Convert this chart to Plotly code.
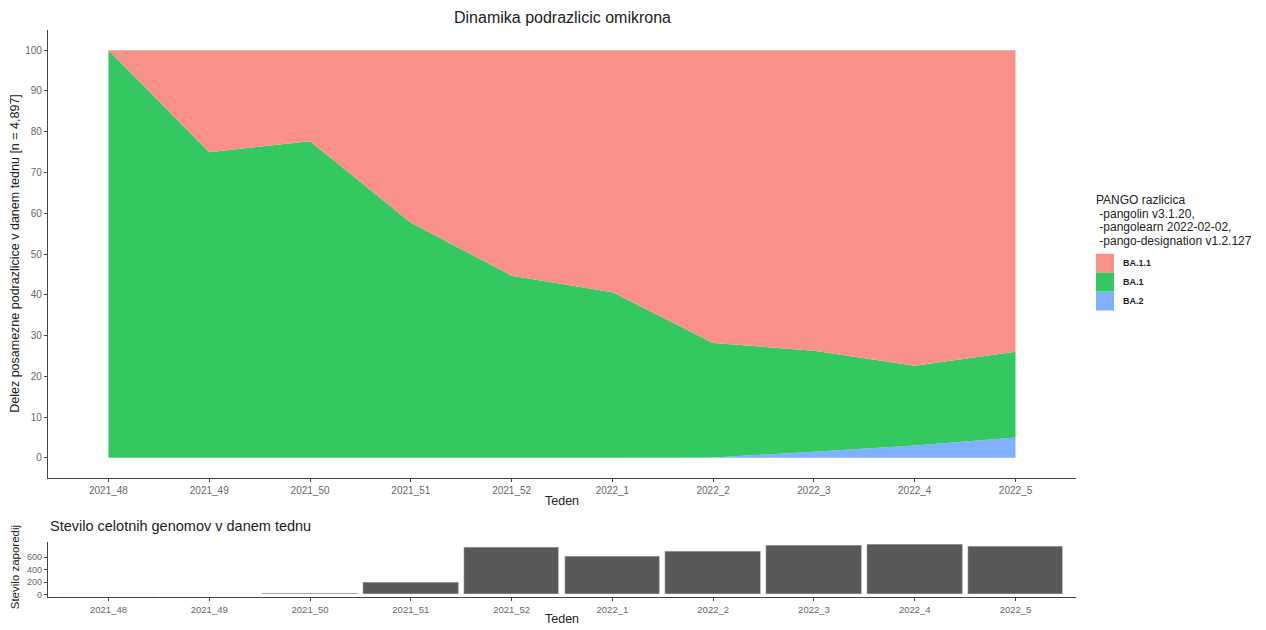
import plotly.graph_objects as go

# Weeks (categories)
weeks = ["2021_48", "2021_49", "2021_50", "2021_51", "2021_52",
         "2022_1", "2022_2", "2022_3", "2022_4", "2022_5"]

# Share of each sub-lineage per week (%)
ba2 = [0.0, 0.0, 0.0, 0.0, 0.0, 0.0, 0.1, 1.5, 3.0, 5.0]
ba1 = [100.0, 75.0, 77.7, 57.7, 44.7, 40.6, 28.1, 24.8, 19.6, 21.0]
ba11 = [round(100 - a - b, 1) for a, b in zip(ba1, ba2)]

# Number of whole genomes sequenced per week
genomes = [1, 4, 18, 190, 750, 610, 693, 790, 795, 773]

colors = {"BA.1.1": "#F9918A", "BA.1": "#33C860", "BA.2": "#81B0FF"}
FONT = "Liberation Sans, Arial, sans-serif"
AXIS_COL = "#444444"
TICK_COL = "#666666"

fig = go.Figure()

# Stacked area: BA.2 at the bottom, then BA.1, then BA.1.1 on top
for name, vals in [("BA.2", ba2), ("BA.1", ba1), ("BA.1.1", ba11)]:
    fig.add_trace(go.Scatter(
        x=weeks, y=vals, name=name, mode="none", stackgroup="one",
        fillcolor=colors[name], showlegend=False,
        xaxis="x", yaxis="y",
    ))

# Bar chart of weekly genome counts
fig.add_trace(go.Bar(
    x=weeks, y=genomes, width=0.95,
    marker=dict(color="#595959", line=dict(color="#f2f2f2", width=0.6)),
    showlegend=False, xaxis="x2", yaxis="y2",
))

x_dom = [48 / 1266, 1076 / 1266]
common_x = dict(
    type="category", range=[-0.6, 9.6], showline=True, linecolor=AXIS_COL,
    linewidth=1.2, ticks="outside", ticklen=3, tickcolor=AXIS_COL,
    showgrid=False, zeroline=False, domain=x_dom,
)
common_y = dict(
    showline=True, linecolor=AXIS_COL, linewidth=1.2, ticks="outside",
    ticklen=3, tickcolor=AXIS_COL, showgrid=False, zeroline=False,
)

fig.update_layout(
    width=1266, height=630,
    margin=dict(l=0, r=0, t=0, b=0),
    paper_bgcolor="white", plot_bgcolor="white",
    font=dict(family=FONT, color="#222222"),
    bargap=0,
    xaxis=dict(common_x, anchor="y",
               tickfont=dict(size=10, color=TICK_COL)),
    yaxis=dict(common_y, domain=[1 - 480.5 / 630, 1 - 30 / 630],
               range=[-5, 105], tickvals=list(range(0, 101, 10)),
               tickfont=dict(size=10, color=TICK_COL), anchor="x"),
    xaxis2=dict(common_x, anchor="y2",
                tickfont=dict(size=9.5, color=TICK_COL)),
    yaxis2=dict(common_y, domain=[1 - 600 / 630, 1 - 545 / 630],
                range=[-0.05 * max(genomes), 1.05 * max(genomes)],
                tickvals=[0, 200, 400, 600],
                tickfont=dict(size=9, color=TICK_COL), anchor="x2"),
)

def px_x(p):
    return p / 1266

def px_y(p):
    return 1 - p / 630

annotations = [
    dict(text="Dinamika podrazlicic omikrona", x=px_x(562), y=px_y(18),
         font=dict(size=16)),
    dict(text="Teden", x=px_x(562), y=px_y(503.5), font=dict(size=12.5)),
    dict(text="Delez posamezne podrazlicice v danem tednu [n = 4,897]",
         x=px_x(15), y=px_y(255), textangle=-90, font=dict(size=12.5)),
    dict(text="Stevilo celotnih genomov v danem tednu", x=px_x(48),
         y=px_y(529), xanchor="left", font=dict(size=14.5)),
    dict(text="Stevilo zaporedij", x=px_x(15), y=px_y(570), textangle=-90,
         font=dict(size=11.5)),
    dict(text="Teden", x=px_x(562), y=px_y(622), font=dict(size=12.5)),
]

# Legend (title lines + colour keys)
legend_lines = ["PANGO razlicica", " -pangolin v3.1.20,",
                " -pangolearn 2022-02-02,", " -pango-designation v1.2.127"]
for i, line in enumerate(legend_lines):
    annotations.append(dict(text=line.replace(" ", "&nbsp;", 1) if line.startswith(" ") else line,
                            x=px_x(1094), y=px_y(201 + i * 13.6),
                            xanchor="left", font=dict(size=12)))

shapes = []
for i, name in enumerate(["BA.1.1", "BA.1", "BA.2"]):
    top = 255 + i * 19
    shapes.append(dict(type="rect", xref="paper", yref="paper",
                       x0=px_x(1096), x1=px_x(1114), y0=px_y(top + 19), y1=px_y(top),
                       fillcolor=colors[name], line=dict(width=0)))
    annotations.append(dict(text=f"<b>{name}</b>", x=px_x(1121), y=px_y(top + 9.5),
                            xanchor="left", font=dict(size=9)))

for a in annotations:
    a.setdefault("xref", "paper")
    a.setdefault("yref", "paper")
    a.setdefault("showarrow", False)
    a.setdefault("xanchor", "center")
    a.setdefault("yanchor", "middle")

fig.update_layout(annotations=annotations, shapes=shapes)

fig.write_html("out.html")
